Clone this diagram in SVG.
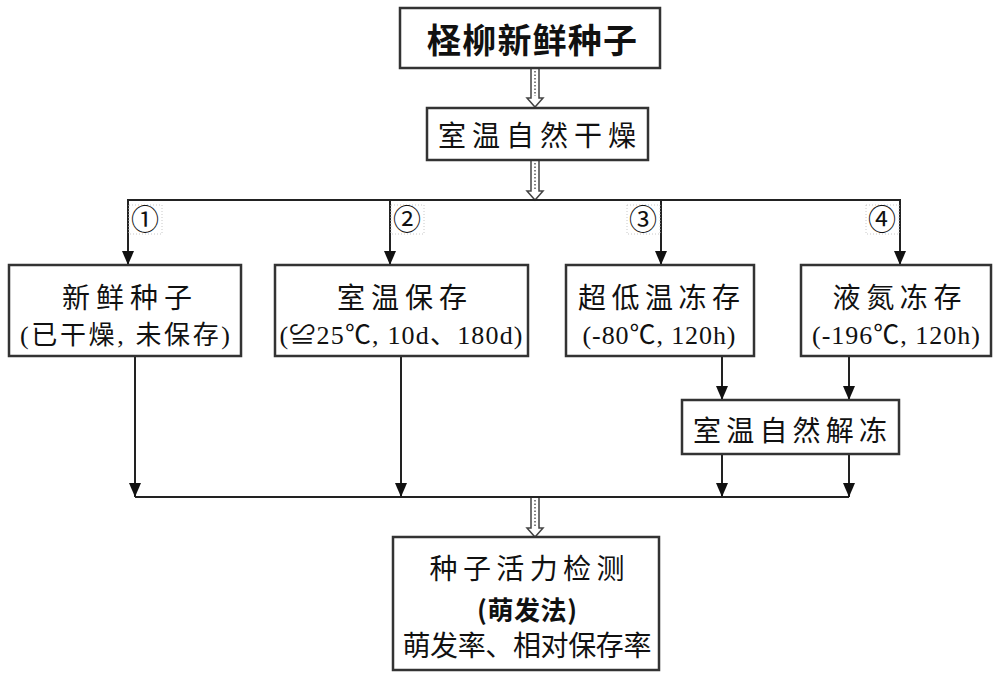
<svg xmlns="http://www.w3.org/2000/svg" width="1000" height="678" viewBox="0 0 1000 678">
<defs>
<marker id="ahv" markerUnits="userSpaceOnUse" markerWidth="12" markerHeight="15" refX="6" refY="14" orient="0" viewBox="0 0 12 15">
<path d="M0,0 L12,0 L6,14 Z" fill="#111"/>
</marker>
</defs>
<style>
.box{fill:#fff;stroke:#333;stroke-width:2.5}
.t{font-family:"Liberation Serif","Noto Sans CJK SC",serif;font-size:28px;fill:#111;text-anchor:middle}
.t2{font-family:"Liberation Serif","Noto Sans CJK SC",serif;font-size:26px;fill:#111;text-anchor:middle}
.tb{font-family:"Noto Sans CJK SC",sans-serif;font-weight:bold;fill:#111;text-anchor:middle}
.ln{fill:none;stroke:#222;stroke-width:2}
.hv{fill:#fff;stroke:#444;stroke-width:1.5}
.dot{fill:none;stroke:#555;stroke-width:1.5;stroke-dasharray:1.5,2}
.lb{fill:none;stroke:#c8c8c8;stroke-width:1;stroke-dasharray:1,2}
.num{font-family:"Noto Sans CJK SC",sans-serif;font-size:28px;fill:#111;text-anchor:middle}
</style>
<rect width="1000" height="678" fill="#fff"/>

<g id="connectors">
<path class="hv" d="M531,68 L531,98 L527,98 L535,107 L543,98 L539,98 L539,68 Z"/>
<line class="dot" x1="535" y1="71" x2="535" y2="96"/>
<path class="hv" d="M531,160 L531,191 L527,191 L535,200 L543,191 L539,191 L539,160 Z"/>
<line class="dot" x1="535" y1="163" x2="535" y2="189"/>
<path class="hv" d="M531,497 L531,528 L527,528 L535,537 L543,528 L539,528 L539,497 Z"/>
<line class="dot" x1="535" y1="500" x2="535" y2="526"/>
<polyline class="ln" points="128,265 128,200 900,200 900,265" marker-start="url(#ahv)" marker-end="url(#ahv)"/>
<line class="ln" x1="390" y1="200" x2="390" y2="265" marker-end="url(#ahv)"/>
<line class="ln" x1="661" y1="200" x2="661" y2="265" marker-end="url(#ahv)"/>
<line class="ln" x1="135" y1="356" x2="135" y2="497" marker-end="url(#ahv)"/>
<line class="ln" x1="401" y1="356" x2="401" y2="497" marker-end="url(#ahv)"/>
<line class="ln" x1="722" y1="356" x2="722" y2="400" marker-end="url(#ahv)"/>
<line class="ln" x1="849" y1="356" x2="849" y2="400" marker-end="url(#ahv)"/>
<line class="ln" x1="722" y1="454" x2="722" y2="497" marker-end="url(#ahv)"/>
<line class="ln" x1="849" y1="454" x2="849" y2="497" marker-end="url(#ahv)"/>
<line class="ln" x1="135" y1="497" x2="849" y2="497"/>
</g>

<g id="labels">
<rect class="lb" x="129" y="205" width="33" height="29"/>
<text class="num" x="145" y="230">①</text>
<rect class="lb" x="391" y="205" width="33" height="29"/>
<text class="num" x="407" y="230">②</text>
<rect class="lb" x="627" y="205" width="33" height="29"/>
<text class="num" x="643" y="230">③</text>
<rect class="lb" x="866" y="205" width="33" height="29"/>
<text class="num" x="882" y="230">④</text>
</g>

<g id="n_top">
<rect class="box" x="400" y="8" width="260" height="60"/>
<text class="tb" x="532" y="53" font-size="34" textLength="210" lengthAdjust="spacing">柽柳新鲜种子</text>
</g>
<g id="n_dry">
<rect class="box" x="427" y="108" width="221" height="52"/>
<text class="t" x="537" y="146" textLength="198" lengthAdjust="spacing">室温自然干燥</text>
</g>
<g id="n_fresh">
<rect class="box" x="9" y="265" width="232" height="91"/>
<text class="t" x="127" y="308" textLength="130" lengthAdjust="spacing">新鲜种子</text>
<text class="t2" x="125" y="344" textLength="210" lengthAdjust="spacing">(已干燥, 未保存)</text>
</g>
<g id="n_room">
<rect class="box" x="275" y="265" width="253" height="91"/>
<text class="t" x="402" y="308" textLength="130" lengthAdjust="spacing">室温保存</text>
<text class="t2" x="401" y="344" textLength="243" lengthAdjust="spacing">(≌25℃, 10d、180d)</text>
</g>
<g id="n_ultra">
<rect class="box" x="566" y="265" width="188" height="91"/>
<text class="t" x="659" y="308" textLength="162" lengthAdjust="spacing">超低温冻存</text>
<text class="t2" x="659" y="344" textLength="153" lengthAdjust="spacing">(-80℃, 120h)</text>
</g>
<g id="n_ln2">
<rect class="box" x="801" y="265" width="190" height="91"/>
<text class="t" x="897" y="308" textLength="129" lengthAdjust="spacing">液氮冻存</text>
<text class="t2" x="896" y="344" textLength="168" lengthAdjust="spacing">(-196℃, 120h)</text>
</g>
<g id="n_thaw">
<rect class="box" x="682" y="400" width="217" height="54"/>
<text class="t" x="790" y="441" textLength="194" lengthAdjust="spacing">室温自然解冻</text>
</g>
<g id="n_test">
<rect class="box" x="393" y="537" width="266" height="133"/>
<text class="t" x="527" y="579" textLength="195" lengthAdjust="spacing">种子活力检测</text>
<text class="tb" x="527" y="620" font-size="26" textLength="100" lengthAdjust="spacing">(萌发法)</text>
<text class="t" x="527" y="656" textLength="249" lengthAdjust="spacing">萌发率、相对保存率</text>
</g>
</svg>
